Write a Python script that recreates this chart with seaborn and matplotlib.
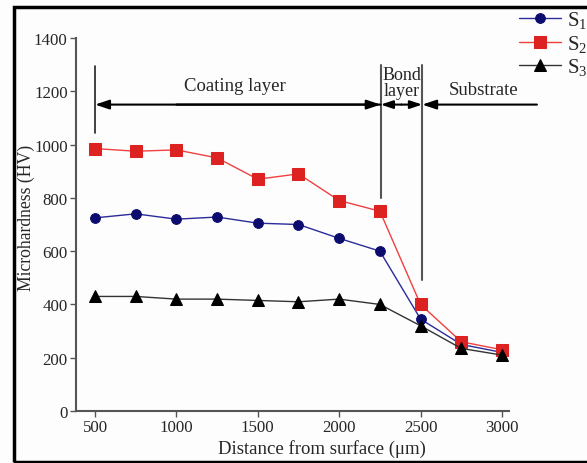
import numpy as np
import pandas as pd
import matplotlib
matplotlib.use("Agg")
import matplotlib.pyplot as plt
import seaborn as sns
from matplotlib.patches import Rectangle

distance = [500, 750, 1000, 1250, 1500, 1750, 2000, 2250, 2500, 2750, 3000]
s1 = [725, 740, 720, 728, 705, 700, 648, 600, 345, 250, 220]
s2 = [985, 975, 980, 950, 870, 890, 790, 750, 400, 260, 230]
s3 = [430, 430, 420, 420, 415, 410, 420, 400, 320, 235, 210]

sns.set_style("white")
plt.rcParams["font.family"] = ["Liberation Serif", "DejaVu Serif"]
plt.rcParams["mathtext.default"] = "regular"

fig = plt.figure(figsize=(5.87, 4.64), dpi=100)
fig.patch.set_facecolor("#fdfdfd")
fig.patches.append(Rectangle((14 / 587, 1 / 464), 1.0, 455 / 464, transform=fig.transFigure,
                             fill=False, edgecolor="black", linewidth=2.5))
ax = fig.add_axes([0.1295, 0.112, 0.7375, 0.804])
ax.set_facecolor("#fdfdfd")

df = pd.DataFrame({"d": distance, "S1": s1, "S2": s2, "S3": s3})
sns.lineplot(data=df, x="d", y="S1", ax=ax, color="#2b2b9a", linewidth=1,
             marker="o", markersize=7, markerfacecolor="#0c0c6e", markeredgecolor="#0c0c6e",
             label="S$_1$")
sns.lineplot(data=df, x="d", y="S2", ax=ax, color="#f04040", linewidth=1,
             marker="s", markersize=8, markerfacecolor="#dd2222", markeredgecolor="#dd2222",
             label="S$_2$")
sns.lineplot(data=df, x="d", y="S3", ax=ax, color="#333333", linewidth=1,
             marker="^", markersize=8, markerfacecolor="black", markeredgecolor="black",
             label="S$_3$")

ax.set_xlim(383, 3043)
ax.set_ylim(0, 1400)
ax.set_xticks([500, 1000, 1500, 2000, 2500, 3000])
ax.set_yticks(np.arange(0, 1401, 200))
ax.tick_params(axis="both", direction="out", length=4, width=1, color="#555555",
               labelsize=12.2, pad=2)
ax.tick_params(axis="x", bottom=True)
ax.tick_params(axis="y", left=True)
for side in ["top", "right"]:
    ax.spines[side].set_visible(False)
for side in ["left", "bottom"]:
    ax.spines[side].set_color("#555555")
    ax.spines[side].set_linewidth(1.5)
ax.set_xlabel("Distance from surface (μm)", fontsize=13.5)
ax.set_ylabel("Microhardness (HV)", fontsize=12.7)
ax.xaxis.set_label_coords(0.568, -0.075)
ax.yaxis.set_label_coords(-0.094, 0.52)

# layer annotations
ax.plot([500, 500], [1045, 1295], color="#222222", linewidth=1.2, clip_on=False)
ax.plot([2255, 2255], [800, 1300], color="#555555", linewidth=1.5, clip_on=False)
ax.plot([2510, 2510], [490, 1300], color="#555555", linewidth=1.5, clip_on=False)
ax.annotate("", xy=(500, 1150), xytext=(2255, 1150),
            arrowprops=dict(arrowstyle="-|>,head_length=0.6,head_width=0.2", color="black", lw=1.5,
                            shrinkA=0, shrinkB=0, mutation_scale=14))
ax.annotate("", xy=(2255, 1150), xytext=(1000, 1150),
            arrowprops=dict(arrowstyle="-|>,head_length=0.6,head_width=0.2", color="black", lw=1.5,
                            shrinkA=0, shrinkB=0, mutation_scale=14))
ax.annotate("", xy=(2255, 1150), xytext=(2383, 1150),
            arrowprops=dict(arrowstyle="-|>,head_length=0.6,head_width=0.2", color="black", lw=1.5,
                            shrinkA=0, shrinkB=0, mutation_scale=12))
ax.annotate("", xy=(2510, 1150), xytext=(2383, 1150),
            arrowprops=dict(arrowstyle="-|>,head_length=0.6,head_width=0.2", color="black", lw=1.5,
                            shrinkA=0, shrinkB=0, mutation_scale=12))
ax.annotate("", xy=(2510, 1150), xytext=(3215, 1150), annotation_clip=False,
            arrowprops=dict(arrowstyle="-|>,head_length=0.6,head_width=0.2", color="black", lw=1.5,
                            shrinkA=0, shrinkB=0, mutation_scale=14))
ax.text(1360, 1190, "Coating layer", ha="center", va="bottom", fontsize=13.5)
ax.text(2385, 1172, "Bond\nlayer", ha="center", va="bottom", fontsize=13, linespacing=0.9)
ax.text(2885, 1175, "Substrate", ha="center", va="bottom", fontsize=13.5, clip_on=False)

leg = ax.legend(loc="upper left", bbox_to_anchor=(511 / 587, 1 - 2 / 464),
                bbox_transform=fig.transFigure, frameon=False, fontsize=15,
                handlelength=2.0, handletextpad=0.3, labelspacing=0.12, borderaxespad=0)

fig.savefig("out.png", dpi=100, facecolor=fig.get_facecolor())
